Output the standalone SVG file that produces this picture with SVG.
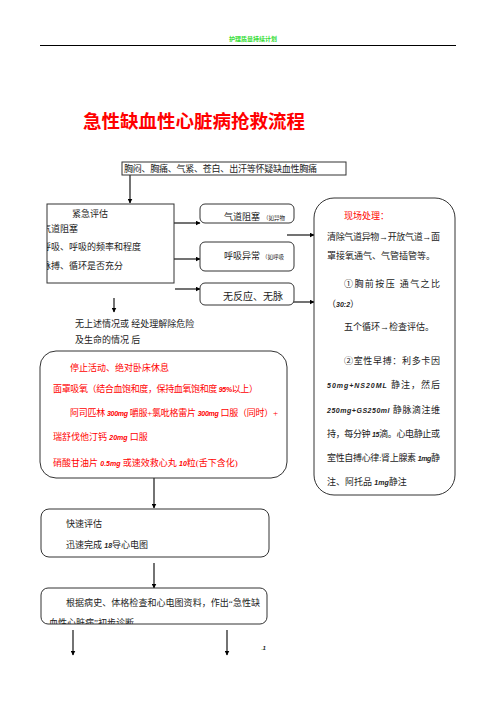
<svg xmlns="http://www.w3.org/2000/svg" width="496" height="702" viewBox="0 0 496 702">
<defs>
<marker id="ah" viewBox="0 0 10 10" refX="9" refY="5" markerWidth="5" markerHeight="5" orient="auto" markerUnits="userSpaceOnUse">
<path d="M0,0 L10,5 L0,10 z" fill="#000"/>
</marker>
<clipPath id="clipEval"><rect x="47" y="204" width="127" height="79"/></clipPath>
<clipPath id="clipDiag"><rect x="41" y="588" width="226" height="36"/></clipPath>
</defs>
<style>
text{font-family:"Liberation Serif","Noto Sans CJK SC",serif;fill:#222;font-size:9px}
.red{fill:#f00}
.num{font-family:"Liberation Sans",sans-serif;font-style:italic;font-weight:bold;font-size:7px}
.box{fill:#fff;stroke:#333;stroke-width:1}
.conn{stroke:#000;stroke-width:1.1;fill:none;marker-end:url(#ah)}
</style>
<rect width="496" height="702" fill="#fff"/>
<g id="header">
<text x="253" y="41" text-anchor="middle" style="font-family:'Noto Sans CJK SC',sans-serif;font-size:6px;font-weight:bold;fill:#33dd33">护理质量持续计划</text>
<line x1="40" y1="45.5" x2="456" y2="45.5" stroke="#000" stroke-width="1.2"/>
</g>
<g id="title">
<text x="83" y="128" class="red" style="font-family:'Noto Sans CJK SC',sans-serif;font-size:18.5px;font-weight:bold" textLength="222" lengthAdjust="spacing">急性缺血性心脏病抢救流程</text>
</g>
<g id="connectors">
<line class="conn" x1="130" y1="175" x2="130" y2="203"/>
<line class="conn" x1="174" y1="223" x2="200" y2="223"/>
<line class="conn" x1="174" y1="259" x2="200" y2="259"/>
<line class="conn" x1="175" y1="289" x2="200" y2="289"/>
<line class="conn" x1="287" y1="235" x2="314" y2="235"/>
<line class="conn" x1="287" y1="302" x2="314" y2="302"/>
<line class="conn" x1="114" y1="298" x2="114" y2="312"/>
<line class="conn" x1="154" y1="478" x2="154" y2="508"/>
<line class="conn" x1="154" y1="563" x2="154" y2="588"/>
<line class="conn" x1="73" y1="630" x2="73" y2="655"/>
<line class="conn" x1="227" y1="630" x2="227" y2="655"/>
</g>
<g id="symptoms">
<rect class="box" x="122" y="162" width="224" height="13"/>
<text x="124" y="172" textLength="193" lengthAdjust="spacing">胸闷、胸痛、气紧、苍白、出汗等怀疑缺血性胸痛</text>
</g>
<g id="eval">
<rect class="box" x="47" y="204" width="127" height="79"/>
<g clip-path="url(#clipEval)">
<text x="72" y="217">紧急评估</text>
<text x="42" y="232">气道阻塞</text>
<text x="42" y="250">呼吸、呼吸的频率和程度</text>
<text x="42" y="269">脉搏、循环是否充分</text>
</g>
</g>
<g id="airway">
<rect class="box" x="200" y="204" width="94" height="19" rx="5"/>
<text x="224" y="220">气道阻塞<tspan style="font-size:5.5px" dx="3">（如异物</tspan></text>
</g>
<g id="breathing">
<rect class="box" x="200" y="242" width="94" height="29" rx="5"/>
<text x="224" y="259">呼吸异常<tspan style="font-size:5.5px" dx="2">（如呼吸</tspan></text>
</g>
<g id="nopulse">
<rect class="box" x="200" y="283" width="94" height="22" rx="5"/>
<text x="223" y="300" style="font-size:10px">无反应、无脉</text>
</g>
<g id="onsite">
<rect class="box" x="314" y="198" width="141" height="297" rx="20"/>
<text x="344" y="219" class="red">现场处理：</text>
<text x="327" y="240" textLength="113" lengthAdjust="spacing">清除气道异物→开放气道→面</text>
<text x="327" y="259">罩接氧通气、气管插管等。</text>
<text x="344" y="287" textLength="96" lengthAdjust="spacing">①胸前按压  通气之比</text>
<text x="327" y="307">（<tspan class="num">30:2</tspan>）</text>
<text x="344" y="330">五个循环→检查评估。</text>
<text x="344" y="364" textLength="96" lengthAdjust="spacing">②室性早搏：利多卡因</text>
<text x="327" y="388" textLength="113" lengthAdjust="spacing"><tspan class="num">50mg+NS20ML</tspan> 静注，然后</text>
<text x="327" y="413" textLength="113" lengthAdjust="spacing"><tspan class="num">250mg+GS250ml</tspan> 静脉滴注维</text>
<text x="327" y="437" textLength="113" lengthAdjust="spacing">持，每分钟 <tspan class="num">15</tspan>滴。心电静止或</text>
<text x="327" y="461" textLength="113" lengthAdjust="spacing">室性自搏心律:肾上腺素 <tspan class="num">1mg</tspan>静</text>
<text x="327" y="485">注、阿托品 <tspan class="num">1mg</tspan>静注</text>
</g>
<g id="note">
<text x="75" y="327">无上述情况或 经处理解除危险</text>
<text x="75" y="343">及生命的情况 后</text>
</g>
<g id="treatment">
<rect class="box" x="40" y="351" width="247" height="127" rx="16"/>
<text x="70" y="371" class="red">停止活动、绝对卧床休息</text>
<text x="53" y="392" class="red" textLength="205" lengthAdjust="spacing">面罩吸氧（结合血饱和度，保持血氧饱和度 <tspan class="num red">95%</tspan>以上）</text>
<text x="70" y="416" class="red" textLength="208" lengthAdjust="spacing">阿司匹林 <tspan class="num red">300mg</tspan> 嚼服+氯吡格雷片 <tspan class="num red">300mg</tspan> 口服（同时）+</text>
<text x="53" y="440" class="red">瑞舒伐他汀钙 <tspan class="num red">20mg</tspan> 口服</text>
<text x="53" y="466" class="red">硝酸甘油片 <tspan class="num red">0.5mg</tspan> 或速效救心丸 <tspan class="num red">10</tspan>粒(舌下含化)</text>
</g>
<g id="quick">
<rect class="box" x="41" y="509" width="228" height="48" rx="8"/>
<text x="66" y="527">快速评估</text>
<text x="66" y="548">迅速完成 <tspan class="num">18</tspan>导心电图</text>
</g>
<g id="diagnosis">
<rect class="box" x="41" y="588" width="226" height="36" rx="7"/>
<text x="66" y="606" textLength="194" lengthAdjust="spacing">根据病史、体格检查和心电图资料，作出“急性缺</text>
<g clip-path="url(#clipDiag)">
<text x="49" y="626">血性心脏病”初步诊断</text>
</g>
</g>
<g id="page">
<text x="261" y="650" style="font-size:6px"><tspan style="fill:#33dd33">.</tspan><tspan class="num" style="font-size:6px">1</tspan></text>
</g>
</svg>
